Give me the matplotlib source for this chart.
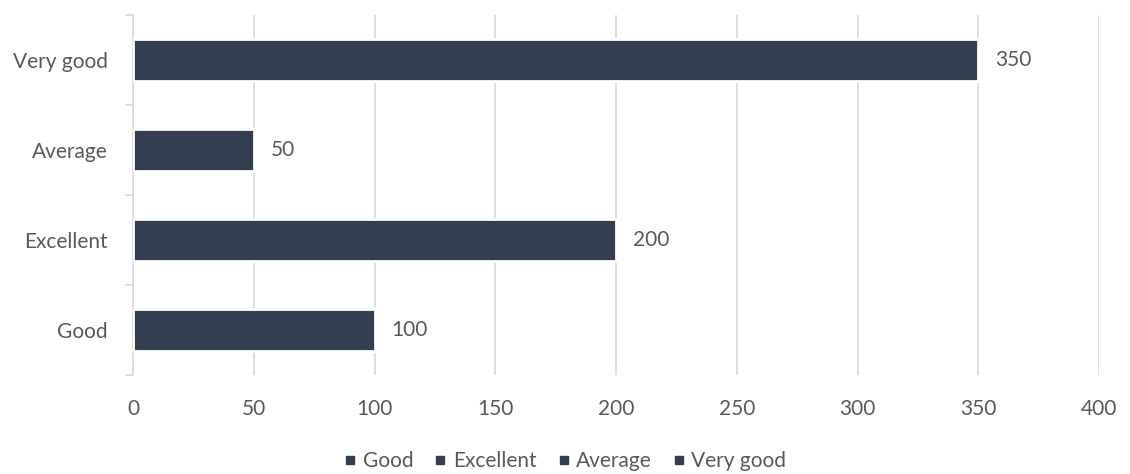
import matplotlib
matplotlib.use("Agg")
import matplotlib.pyplot as plt
from matplotlib.lines import Line2D
import numpy as np

categories = ["Good", "Excellent", "Average", "Very good"]
values = [100, 200, 50, 350]
x_ticks = [0, 50, 100, 150, 200, 250, 300, 350, 400]

bar_color = "#333F50"
text_color = "#595959"
grid_color = "#D9D9D9"

plt.rcParams['font.family'] = ['Lato', 'DejaVu Sans']
FS = 15

W, H = 1130, 474
fig = plt.figure(figsize=(W / 100, H / 100), dpi=100)
ax = fig.add_axes([133 / W, 1 - 375 / H, (1099 - 133) / W, (375 - 15) / H])

y = np.arange(len(categories))
ax.barh(y, values, height=0.47, color=bar_color, edgecolor="white", linewidth=2.0, zorder=3)

for yi, v in zip(y, values):
    ax.annotate(str(v), xy=(v, yi), xytext=(12, 0), textcoords="offset points",
                ha="left", va="center", fontsize=FS, color=text_color, zorder=4)

ax.set_xlim(0, 400)
ax.set_ylim(-0.5, len(categories) - 0.5)
ax.set_xticks(x_ticks)
ax.set_xticklabels([str(t) for t in x_ticks])
ax.set_yticks(y)
ax.set_yticklabels(categories)
ax.set_yticks(np.arange(-0.5, len(categories)), minor=True)

ax.tick_params(axis="y", which="major", length=0, pad=18, labelsize=FS, labelcolor=text_color)
ax.tick_params(axis="y", which="minor", length=6, width=1.2, color=grid_color)
ax.tick_params(axis="x", which="major", length=0, pad=17, labelsize=FS, labelcolor=text_color)

ax.grid(axis="x", color=grid_color, linewidth=1.2, zorder=0)
ax.set_axisbelow(True)
for s in ["top", "right", "bottom"]:
    ax.spines[s].set_visible(False)
ax.spines["left"].set_color(grid_color)
ax.spines["left"].set_linewidth(1.2)

handles = [Line2D([0], [0], marker="s", linestyle="none", markersize=6,
                  markerfacecolor=bar_color, markeredgecolor=bar_color) for _ in categories]
fig.legend(handles, categories, loc="center", bbox_to_anchor=(563 / W, 1 - 461 / H),
           ncol=4, frameon=False, fontsize=FS, labelcolor=text_color,
           handletextpad=0.1, columnspacing=0.8, handlelength=1.0)

fig.savefig("out.png", dpi=100)
